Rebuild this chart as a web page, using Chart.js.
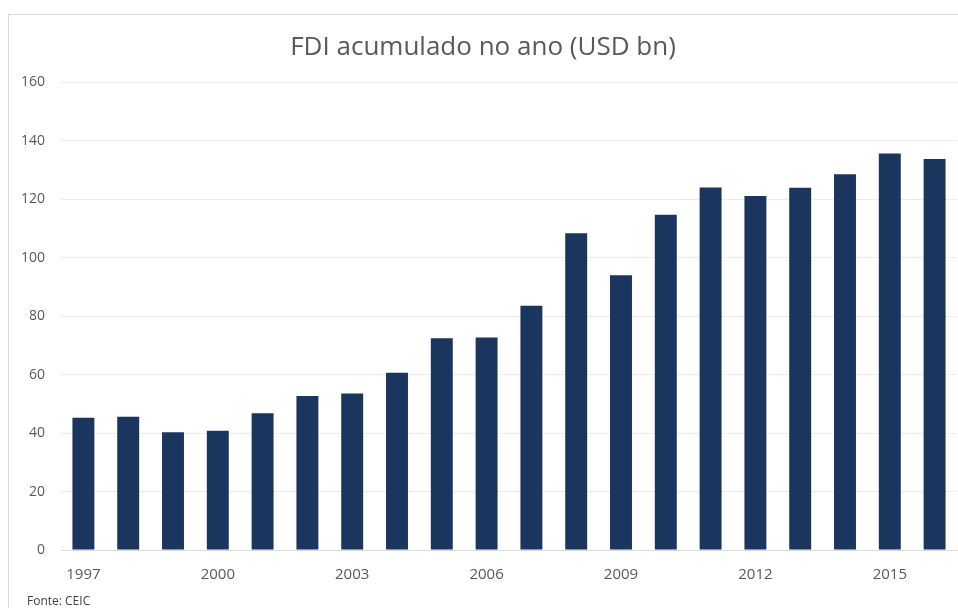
<!DOCTYPE html>
<html>
<head>
<meta charset="utf-8">
<script src="https://cdn.jsdelivr.net/npm/chart.js@4.4.1/dist/chart.umd.min.js"></script>
<style>
  html, body { margin: 0; padding: 0; background: #fff; }
  #wrap { position: relative; width: 958px; height: 608px; overflow: hidden; }
  #frame { position: absolute; left: 8px; top: 14px; width: 1000px; height: 700px; border: 1px solid #d9d9d9; }
  #chart { position: absolute; left: 0; top: 0; }
  #source { position: absolute; left: 27px; top: 592px; font: 12px "Open Sans", sans-serif; color: #404040; }
</style>
</head>
<body>
<div id="wrap">
  <div id="frame"></div>
  <canvas id="chart" width="958" height="608"></canvas>
  <div id="source">Fonte: CEIC</div>
</div>
<script>
// data
const years = ['1997', '1998', '1999', '2000', '2001', '2002', '2003', '2004', '2005', '2006',
               '2007', '2008', '2009', '2010', '2011', '2012', '2013', '2014', '2015', '2016'];
const fdi = [45.2, 45.6, 40.3, 40.8, 46.8, 52.7, 53.5, 60.6, 72.4, 72.7,
             83.5, 108.3, 94.0, 114.7, 124.0, 121.1, 123.9, 128.5, 135.6, 133.7];
const yTicks = [0, 20, 40, 60, 80, 100, 120, 140, 160];

const textColor = '#595959';

new Chart(document.getElementById('chart'), {
    type: 'bar',
    data: {
        labels: years,
        datasets: [{
            label: 'FDI',
            data: fdi,
            backgroundColor: '#1a365f',
            categoryPercentage: 1,
            barPercentage: 0.49
        }]
    },
    options: {
        responsive: false,
        animation: false,
        layout: { padding: { top: 32, left: 9, right: 1, bottom: 8 } },
        plugins: {
            legend: { display: false },
            tooltip: { enabled: false },
            title: {
                display: true,
                text: 'FDI acumulado no ano (USD bn)',
                color: textColor,
                font: { family: 'Open Sans', size: 26, weight: 'normal' },
                padding: { top: 0, bottom: 19 }
            }
        },
        scales: {
            x: {
                grid: { display: false, drawTicks: false },
                border: { color: '#d9d9d9' },
                ticks: {
                    autoSkip: false,
                    maxRotation: 0,
                    padding: 16,
                    color: textColor,
                    font: { family: 'Open Sans', size: 15 },
                    callback: (v, i) => (i % 3 === 0 ? years[i] : '')
                }
            },
            y: {
                min: 0,
                max: 160,
                afterBuildTicks: scale => { scale.ticks = yTicks.map(v => ({ value: v })); },
                afterFit: scale => { scale.width = 52; },
                grid: { color: '#ebebeb', drawTicks: false },
                border: { display: false },
                ticks: {
                    padding: 16,
                    color: textColor,
                    font: { family: 'Open Sans', size: 14 }
                }
            }
        }
    }
});
</script>
</body>
</html>
